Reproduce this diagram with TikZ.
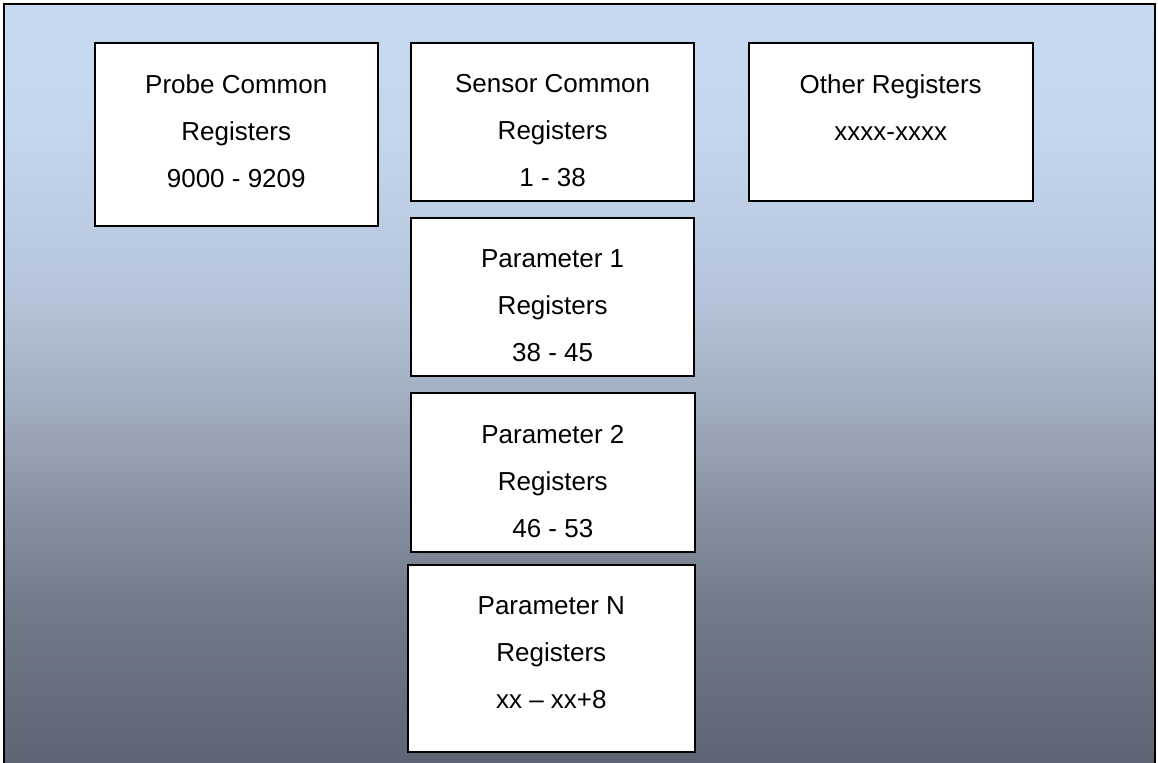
\documentclass[tikz,border=0pt]{standalone}
\usepackage{fontspec}
\setmainfont{Liberation Sans}
\definecolor{bgA}{HTML}{5C6370}
\definecolor{bgB}{HTML}{737C8A}
\definecolor{bgC}{HTML}{8A94A4}
\definecolor{bgD}{HTML}{A2AFC2}
\definecolor{bgE}{HTML}{B5C4DA}
\definecolor{bgF}{HTML}{C5D7EF}
\definecolor{bgG}{HTML}{C6D9F1}
\pgfdeclareverticalshading{bgshade}{100bp}{color(0bp)=(bgA); color(25bp)=(bgA); color(36.5bp)=(bgB); color(43bp)=(bgC); color(49.5bp)=(bgD); color(56bp)=(bgE); color(67.5bp)=(bgF); color(75bp)=(bgG); color(100bp)=(bgG)}
\begin{document}
\begin{tikzpicture}[x=0.75pt,y=-0.75pt,
  regbox/.style={draw=black, line width=1.5pt, fill=white, inner sep=0pt, outer sep=0pt, anchor=north west},
  regtext/.style={anchor=north, inner sep=0pt, align=center, font=\fontsize{19.5pt}{35.25pt}\selectfont, yshift=-23.7pt}]
\useasboundingbox (0,0) rectangle (1158,763);
\shade[shading=bgshade, draw=black, line width=1.5pt] (3.7,3.7) rectangle (1155,775);
\node[regbox, minimum width=283.5*0.75pt, minimum height=183.3*0.75pt] (probe) at (94.5,42.7) {};
\node[regbox, minimum width=283.3*0.75pt, minimum height=158.3*0.75pt] (sensor) at (411,42.7) {};
\node[regbox, minimum width=284*0.75pt, minimum height=158.3*0.75pt] (other) at (748.7,42.7) {};
\node[regbox, minimum width=283.3*0.75pt, minimum height=158.3*0.75pt] (param1) at (411,217.7) {};
\node[regbox, minimum width=283.7*0.75pt, minimum height=158.7*0.75pt] (param2) at (411,393.3) {};
\node[regbox, minimum width=287.3*0.75pt, minimum height=187.3*0.75pt] (paramN) at (407.7,564.7) {};
\node[regtext] (probeT) at (probe.north) {Probe Common\\Registers\\9000 - 9209};
\node[regtext] (sensorT) at (sensor.north) {Sensor Common\\Registers\\1 - 38};
\node[regtext] (otherT) at (other.north) {Other Registers\\xxxx-xxxx};
\node[regtext] (param1T) at (param1.north) {Parameter 1\\Registers\\38 - 45};
\node[regtext] (param2T) at (param2.north) {Parameter 2\\Registers\\46 - 53};
\node[regtext] (paramNT) at (paramN.north) {Parameter N\\Registers\\xx – xx+8};
\end{tikzpicture}
\end{document}
